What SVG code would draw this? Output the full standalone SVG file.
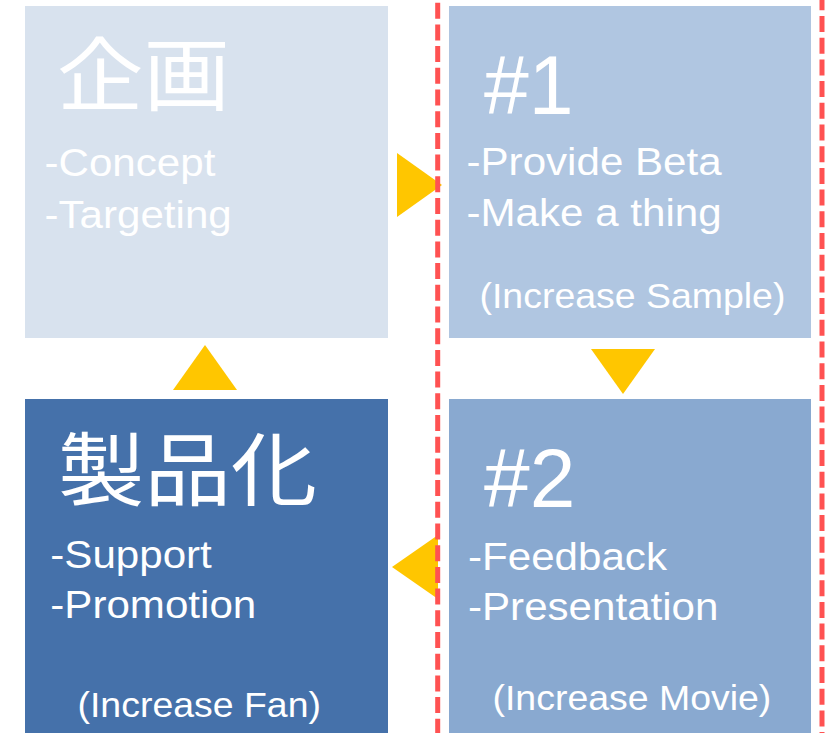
<svg xmlns="http://www.w3.org/2000/svg" width="833" height="733" viewBox="0 0 833 733">
<style>
.t{fill:#ffffff;font-family:"Liberation Sans",Arial,"Noto Sans CJK JP",sans-serif}
.cjk{fill:#ffffff;font-family:"Noto Sans CJK JP","Noto Sans CJK SC",sans-serif;font-size:80px}
.b{font-size:39px}
.s{font-size:35px}
.h{font-size:83px}
.arr{fill:#ffc600}
.dash{stroke:#ff5252;stroke-width:5;stroke-dasharray:16 5.7;fill:none}
</style>
<rect width="833" height="733" fill="#ffffff"/>
<g id="node-kikaku">
<rect x="25" y="6" width="363" height="332" fill="#d8e2ee"/>
<text class="cjk" transform="translate(57 104) scale(1.08 1)">企画</text>
<text class="t b" transform="translate(44.5 176) scale(1.08 1)">-Concept</text>
<text class="t b" transform="translate(44.5 228) scale(1.08 1)">-Targeting</text>
</g>
<g id="node-1">
<rect x="449" y="6" width="362" height="332" fill="#b0c6e1"/>
<text class="t h" transform="translate(484 114) scale(0.97 1)">#1</text>
<text class="t b" transform="translate(466.5 175) scale(1.08 1)">-Provide Beta</text>
<text class="t b" transform="translate(466.5 226) scale(1.08 1)">-Make a thing</text>
<text class="t s" transform="translate(479.5 308) scale(1.07 1)">(Increase Sample)</text>
</g>
<g id="node-seihinka">
<rect x="25" y="399" width="363" height="334" fill="#4571aa"/>
<text class="cjk" transform="translate(58 499) scale(1.08 1)">製品化</text>
<text class="t b" transform="translate(50.3 568) scale(1.08 1)">-Support</text>
<text class="t b" transform="translate(50.3 618) scale(1.08 1)">-Promotion</text>
<text class="t s" transform="translate(77.5 717) scale(1.07 1)">(Increase Fan)</text>
</g>
<g id="node-2">
<rect x="449" y="399" width="362" height="334" fill="#89a9d0"/>
<text class="t h" transform="translate(484 507) scale(0.99 1)">#2</text>
<text class="t b" transform="translate(468 570) scale(1.08 1)">-Feedback</text>
<text class="t b" transform="translate(468 620) scale(1.08 1)">-Presentation</text>
<text class="t s" transform="translate(492.5 710) scale(1.07 1)">(Increase Movie)</text>
</g>
<g id="connectors">
<polygon class="arr" points="397,153 397,217 442,185"/>
<polygon class="arr" points="591,349 655,349 623,394"/>
<polygon class="arr" points="438,535 438,599 392,567"/>
<polygon class="arr" points="173,390 237,390 205,345"/>
</g>
<g id="dividers">
<line class="dash" x1="437.7" y1="2.7" x2="437.7" y2="733"/>
<line class="dash" x1="822" y1="-5.7" x2="822" y2="733"/>
</g>
</svg>
